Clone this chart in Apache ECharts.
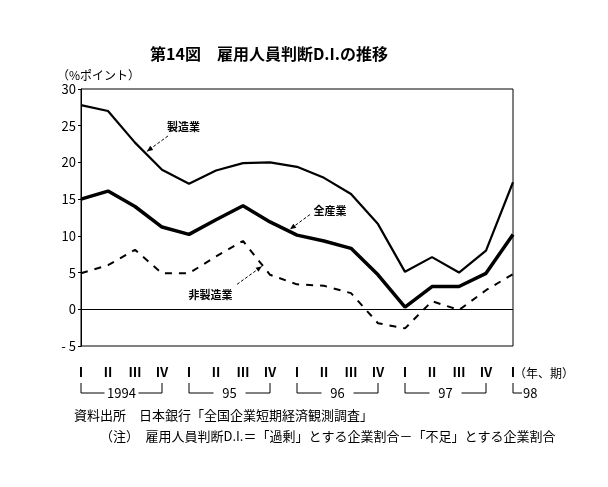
<!DOCTYPE html>
<html>
<head>
<meta charset="utf-8">
<script src="https://cdn.jsdelivr.net/npm/echarts@6/dist/echarts.min.js"></script>
<style>
html,body{margin:0;padding:0;background:#fff;}
#chart{width:608px;height:487px;}
</style>
</head>
<body>
<div id="chart"></div>
<script>
const categories = ['Ⅰ','Ⅱ','Ⅲ','Ⅳ','Ⅰ','Ⅱ','Ⅲ','Ⅳ','Ⅰ','Ⅱ','Ⅲ','Ⅳ','Ⅰ','Ⅱ','Ⅲ','Ⅳ','Ⅰ'];
const years = ['1994','95','96','97','98'];
const yTicks = [-5, 0, 5, 10, 15, 20, 25, 30];
const manufacturing    = [27.8, 27.0, 22.7, 19.0, 17.1, 18.9, 19.9, 20.0, 19.4, 17.9, 15.7, 11.6, 5.1, 7.1, 5.0, 8.0, 17.3];
const allIndustries    = [15.0, 16.1, 14.0, 11.2, 10.2, 12.2, 14.1, 11.9, 10.1, 9.3, 8.3, 4.7, 0.3, 3.1, 3.1, 4.9, 10.2];
const nonManufacturing = [4.9, 6.0, 8.1, 4.9, 4.9, 7.2, 9.3, 4.7, 3.4, 3.2, 2.2, -1.9, -2.6, 1.1, -0.1, 2.6, 4.8];
const seriesNames = ['製造業', '全産業', '非製造業'];

const FONT = '"Noto Sans CJK JP", sans-serif';
const chart = echarts.init(document.getElementById('chart'), null, {renderer: 'canvas'});

const option = {
  animation: false,
  backgroundColor: '#fff',
  title: {
    text: '第14図　雇用人員判断D.I.の推移',
    left: 145, top: 41,
    textStyle: {fontFamily: FONT, fontSize: 16, fontWeight: 'bold', color: '#000'}
  },
  grid: {left: 81, right: 95, top: 89, bottom: 141, show: true, borderColor: '#000', borderWidth: 1, backgroundColor: 'transparent'},
  xAxis: {
    type: 'category', data: categories, boundaryGap: false,
    axisLine: {show: false}, axisTick: {show: false}, splitLine: {show: false},
    axisLabel: {interval: 0, margin: 20, fontFamily: FONT, fontSize: 13, fontWeight: 'bold', color: '#000'}
  },
  yAxis: {
    type: 'value', min: -5, max: 30, interval: 5,
    axisLine: {show: true, lineStyle: {color: '#000', width: 1}},
    axisTick: {show: true, length: 3, lineStyle: {color: '#000'}},
    splitLine: {show: false},
    axisLabel: {margin: 5, fontFamily: FONT, fontSize: 13, color: '#000',
      formatter: v => yTicks.indexOf(v) >= 0 ? (v < 0 ? '- ' + Math.abs(v) : String(v)) : ''}
  },
  series: [
    {name: seriesNames[0], type: 'line', data: manufacturing, symbol: 'none', lineStyle: {color: '#000', width: 2.2}, z: 3,
     markLine: {silent: true, symbol: 'none', label: {show: false}, lineStyle: {color: '#000', width: 1, type: 'solid'}, data: [{yAxis: 0}]}},
    {name: seriesNames[1], type: 'line', data: allIndustries, symbol: 'none', lineStyle: {color: '#000', width: 3.5}, z: 3},
    {name: seriesNames[2], type: 'line', data: nonManufacturing, symbol: 'none', lineStyle: {color: '#000', width: 2, type: [7, 7]}, z: 3}
  ]
};
chart.setOption(option);

// category axis rounds fractional indices, so interpolate between index pixels
const x0 = chart.convertToPixel({xAxisIndex: 0}, 0);
const x1 = chart.convertToPixel({xAxisIndex: 0}, 1);
function xpx(i) { return x0 + i * (x1 - x0); }
function ypx(v) { return chart.convertToPixel({yAxisIndex: 0}, v); }
function px(i, v) { return [xpx(i), ypx(v)]; }

const g = [];
const black = {stroke: '#000', lineWidth: 1};
function line(a1, b1, a2, b2) { g.push({type: 'line', shape: {x1: a1, y1: b1, x2: a2, y2: b2}, style: black, silent: true}); }
function text(t, x, y, size, align, weight) {
  g.push({type: 'text', x, y, style: {text: t, fontFamily: FONT, fontSize: size, fontWeight: weight || 'normal', fill: '#000', textAlign: align || 'left', textVerticalAlign: 'middle'}, silent: true});
}
function arrow(a, b) {
  g.push({type: 'line', shape: {x1: a[0], y1: a[1], x2: b[0], y2: b[1]}, style: {stroke: '#000', lineWidth: 1, lineDash: [3, 2]}, silent: true});
  const dx = b[0] - a[0], dy = b[1] - a[1], L = Math.hypot(dx, dy), ux = dx / L, uy = dy / L;
  const len = 6, w = 2.5;
  const bx = b[0] - ux * len, by = b[1] - uy * len;
  g.push({type: 'polygon', shape: {points: [[b[0], b[1]], [bx - uy * w, by + ux * w], [bx + uy * w, by - ux * w]]}, style: {fill: '#000'}, silent: true});
}

// unit label
text('（%ポイント）', 57, 75, 12);
// (年、期)
text('（年、期）', xpx(16) + 1, 373, 12);

// year brackets
const yTop = 383, yBot = 393;
for (let k = 0; k < 4; k++) {
  const xa = xpx(k * 4), xb = xpx(k * 4 + 3), mid = (xa + xb) / 2;
  const half = years[k].length * 4 + (k === 0 ? 1 : 8);
  line(xa, yTop, xa, yBot); line(xa, yBot, mid - half, yBot);
  line(mid + half, yBot, xb, yBot); line(xb, yBot, xb, yTop);
  text(years[k], mid, yBot, 13, 'center');
}
{
  const xa = xpx(16);
  line(xa, yTop, xa, yBot); line(xa, yBot, xa + 9, yBot);
  text(years[4], xa + 10, yBot, 13);
}

// annotations
text(seriesNames[0], xpx(3.8), ypx(24.8), 11, 'center', 'bold');
arrow(px(3.22, 23.6), px(2.44, 21.5));
text(seriesNames[1], xpx(9.22), ypx(13.4), 11, 'center', 'bold');
arrow(px(8.48, 12.9), px(7.74, 10.9));
text(seriesNames[2], xpx(4.8), ypx(2.0), 11, 'center', 'bold');
arrow(px(5.78, 3.4), px(6.7, 5.85));

// footer
text('資料出所　日本銀行「全国企業短期経済観測調査」', 74, 415, 13);
text('（注）　雇用人員判断D.I.＝「過剰」とする企業割合－「不足」とする企業割合', 100, 436, 13);

chart.setOption({graphic: g});
</script>
</body>
</html>
